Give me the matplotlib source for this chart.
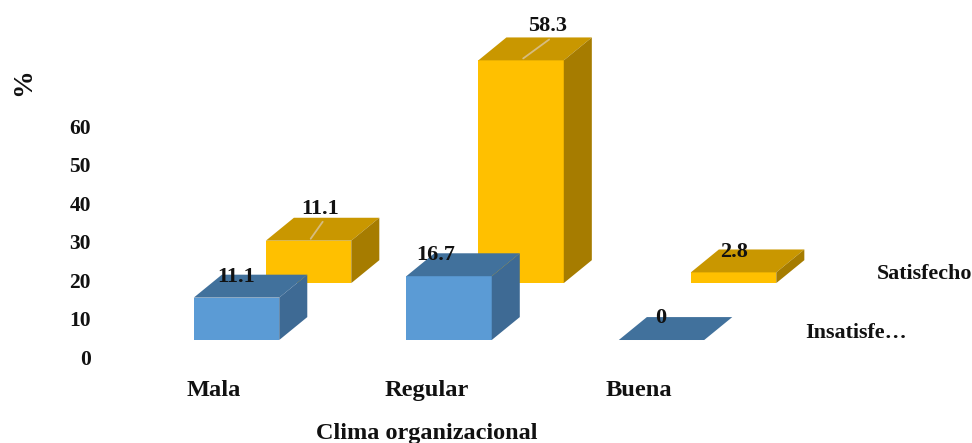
import matplotlib
matplotlib.use('Agg')
import matplotlib.pyplot as plt

# datos
categorias = ['Mala', 'Regular', 'Buena']
insatisfecho = [11.1, 16.7, 0]
satisfecho = [11.1, 58.3, 2.8]
yticks = [0, 10, 20, 30, 40, 50, 60]

# geometria de las barras (unidades de los ejes)
ANCHO = 0.402
PROF_X = 0.132
PROF_Y = 6.0
FILA_X = 0.339
FILA_Y = 14.9

plt.rcParams['font.family'] = ['Liberation Serif', 'DejaVu Serif']
plt.rcParams['font.weight'] = 'bold'

fig = plt.figure(figsize=(9.72, 4.43), dpi=100)
ax = fig.add_axes([0, 0, 1, 1])
ax.set_xlim(-1.113, 3.461)
ax.set_ylim(-26.96, 89.0)
ax.axis('off')


def barra3d(x, base, valor, frente, arriba, lado):
	# cara frontal, cara superior y cara lateral
	izq = x - ANCHO / 2
	der = x + ANCHO / 2
	tope = base + valor
	ax.bar(x, valor, ANCHO, bottom=base, color=frente, linewidth=0)
	ax.fill([izq, der, der + PROF_X, izq + PROF_X],
			[tope, tope, tope + PROF_Y, tope + PROF_Y], color=arriba, linewidth=0)
	ax.fill([der, der + PROF_X, der + PROF_X, der],
			[base, base + PROF_Y, tope + PROF_Y, tope], color=lado, linewidth=0)


def etiqueta(x, y, texto, dx, dy):
	ax.annotate(texto, (x, y), xytext=(dx, dy), textcoords='offset pixels',
				ha='center', va='center', fontsize=16, color='#111111')


# fila de atras
offsets_sat = [(12, 32), (26, 34), (0, 20)]
for i, v in enumerate(satisfecho):
	x = i + FILA_X
	barra3d(x, FILA_Y, v, '#FFC000', '#C99700', '#A67C00')
	if v > 10:
		# linea guia hacia la etiqueta
		dx, dy = offsets_sat[i]
		ax.annotate('', (x + 0.01, FILA_Y + v + 0.5), xytext=(dx, dy - 15), textcoords='offset pixels',
					arrowprops=dict(arrowstyle='-', color='#D6BC80', lw=1.3, shrinkA=0, shrinkB=0))

# fila de adelante
offsets_ins = [(0, 21), (-13, 21), (-1, 22)]
for i, v in enumerate(insatisfecho):
	barra3d(i, 0, v, '#5B9BD5', '#41719C', '#3E6A94')

# etiquetas de valores
for i, v in enumerate(satisfecho):
	dx, dy = offsets_sat[i]
	etiqueta(i + FILA_X, FILA_Y + v, str(v), dx, dy)
for i, v in enumerate(insatisfecho):
	dx, dy = offsets_ins[i]
	etiqueta(i, v, str(v), dx, dy)

# eje y
for t in yticks:
	ax.annotate(str(t), (-0.685, t * 1.008 - 5.2), ha='right', va='center', fontsize=15.5, color='#111111')
ax.text(-1.0, 67.6, '%', rotation=90, ha='center', va='center', fontsize=20, color='#111111')

# eje x
for i, c in enumerate(categorias):
	ax.text(i - 0.106, -13.1, c, ha='center', va='center', fontsize=17.6, color='#111111')
ax.text(0.896, -24.4, 'Clima organizacional', ha='center', va='center', fontsize=17.5, color='#111111')

# nombres de las series
ax.text(3.461, 17.2, 'Satisfecho', ha='right', va='center', fontsize=15.8, color='#111111')
ax.text(2.675, 1.9, 'Insatisfe…', ha='left', va='center', fontsize=15.8, color='#111111')

fig.savefig('out.png', dpi=100)
